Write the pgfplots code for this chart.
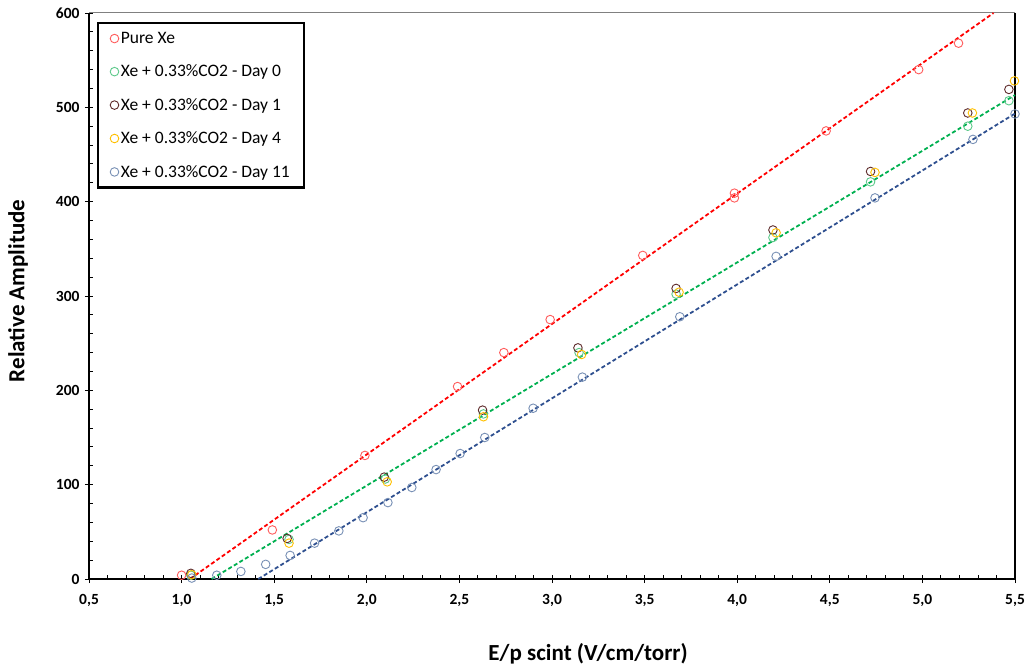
\documentclass[border=0pt]{standalone}
\usepackage{pgfplots}
\pgfplotsset{compat=1.18}
\usepackage{fontspec}
\setmainfont{Carlito}
\definecolor{cRedM}{HTML}{FF5B5B}
\definecolor{cRedL}{HTML}{FF0000}
\definecolor{cGreenM}{HTML}{5CC98A}
\definecolor{cGreenL}{HTML}{00B050}
\definecolor{cBrown}{HTML}{5E2B2B}
\definecolor{cGold}{HTML}{FFC000}
\definecolor{cBlueM}{HTML}{7890B5}
\definecolor{cBlueL}{HTML}{2E4F8F}
\pgfplotsset{
  mk/.style={only marks, mark=o, mark size=4.3pt, color=#1,
    mark options={line width=0.9pt, solid},
    legend image code/.code={\draw[##1,mark repeat=2,mark phase=2] plot coordinates {(0pt,0pt)(5pt,0pt)(13pt,0pt)};}},
  tl/.style={color=#1, line width=1.8pt, dash pattern=on 4pt off 2.5pt, forget plot, no marks},
}
\begin{document}
\begin{tikzpicture}
\begin{axis}[
  scale only axis, width=926pt, height=566pt,
  xmin=0.5, xmax=5.5, ymin=0, ymax=600,
  clip=false,
  axis line style={draw=none},
  xtick={0.5,1.0,1.5,2.0,2.5,3.0,3.5,4.0,4.5,5.0,5.5},
  ytick={0,100,200,300,400,500,600},
  minor x tick num=4, minor y tick num=4,
  xtick pos=bottom, ytick pos=left,
  tick align=center,
  major tick length=8pt, minor tick length=4pt,
  tick style={black, line width=0.9pt},
  minor x tick style={yshift=2pt},
  minor y tick style={xshift=2pt},
  /pgf/number format/assume math mode=true,
  x tick label style={font=\fontsize{15.5}{18}\selectfont\bfseries, yshift=-8pt,
    /pgf/number format/.cd, fixed, fixed zerofill, precision=1, use comma},
  y tick label style={font=\fontsize{15.5}{18}\selectfont\bfseries, xshift=-2pt,
    /pgf/number format/.cd, fixed, precision=0, 1000 sep={}},
  xlabel={E/p scint (V/cm/torr)},
  ylabel={Relative Amplitude},
  xlabel style={font=\fontsize{23}{27}\selectfont\bfseries, at={(axis description cs:0.539,0)}, anchor=base, yshift=-81pt},
  ylabel style={font=\fontsize{23}{27}\selectfont\bfseries, at={(axis description cs:0,0.509)}, anchor=center, yshift=71pt},
  legend style={at={(0,1)}, anchor=north west, xshift=8pt, yshift=-9pt,
    draw=black, line width=2.4pt, font=\fontsize{17.5}{21}\selectfont,
    row sep=16pt, inner xsep=12pt, inner ysep=7pt},
  legend cell align=left,
]
\draw[line width=1.8pt, black] (rel axis cs:0,1) -- (rel axis cs:0,0) -- (rel axis cs:1,0);
\draw[line width=1pt, black!50] (rel axis cs:0,1) -- (rel axis cs:1,1);
\draw[line width=1.3pt, black] (rel axis cs:1,1) -- (rel axis cs:1,0);
\coordinate (sw) at (rel axis cs:0,0);
\coordinate (ne) at (rel axis cs:1,1);

\addplot[mk=cRedM] coordinates {
 (1.00,4) (1.49,52) (1.99,131) (2.49,204) (2.74,240) (2.99,275) (3.49,343)
 (3.985,404) (3.985,409) (4.48,475) (4.98,540) (5.195,568)};
\addlegendentry{Pure Xe}
\addplot[mk=cGreenM] coordinates {
 (1.05,4) (1.58,42) (2.10,106) (2.63,175) (3.146,240) (3.67,302) (4.193,362)
 (4.72,421) (5.245,480) (5.467,507)};
\addlegendentry{Xe + 0.33\%CO2 - Day 0}
\addplot[mk=cBrown] coordinates {
 (1.05,6) (1.57,43) (2.094,108) (2.625,179) (3.14,245) (3.67,308) (4.193,370)
 (4.72,432) (5.245,494) (5.467,519)};
\addlegendentry{Xe + 0.33\%CO2 - Day 1}
\addplot[mk=cGold] coordinates {
 (1.055,4.5) (1.58,38) (2.11,103) (2.63,172) (3.16,238) (3.686,304) (4.21,367)
 (4.744,431) (5.27,494) (5.497,528)};
\addlegendentry{Xe + 0.33\%CO2 - Day 4}
\addplot[mk=cBlueM] coordinates {
 (1.055,1) (1.19,4) (1.32,8) (1.454,15.5) (1.586,25) (1.718,38) (1.849,51)
 (1.98,65) (2.114,81) (2.243,97) (2.374,116) (2.504,133) (2.637,150)
 (2.898,181) (3.164,214) (3.69,278) (4.21,342) (4.744,404) (5.273,466) (5.5,493)};
\addlegendentry{Xe + 0.33\%CO2 - Day 11}

\addplot[tl=cRedL] coordinates {(1.045,0) (5.384,600)};
\addplot[tl=cGreenL] coordinates {(1.162,0) (5.5,513)};
\addplot[tl=cBlueL] coordinates {(1.414,0) (5.5,493.4)};
\end{axis}
\pgfresetboundingbox
\path[use as bounding box] ([xshift=-89pt,yshift=-89pt]sw) rectangle ([xshift=11pt,yshift=13pt]ne);
\end{tikzpicture}
\end{document}
